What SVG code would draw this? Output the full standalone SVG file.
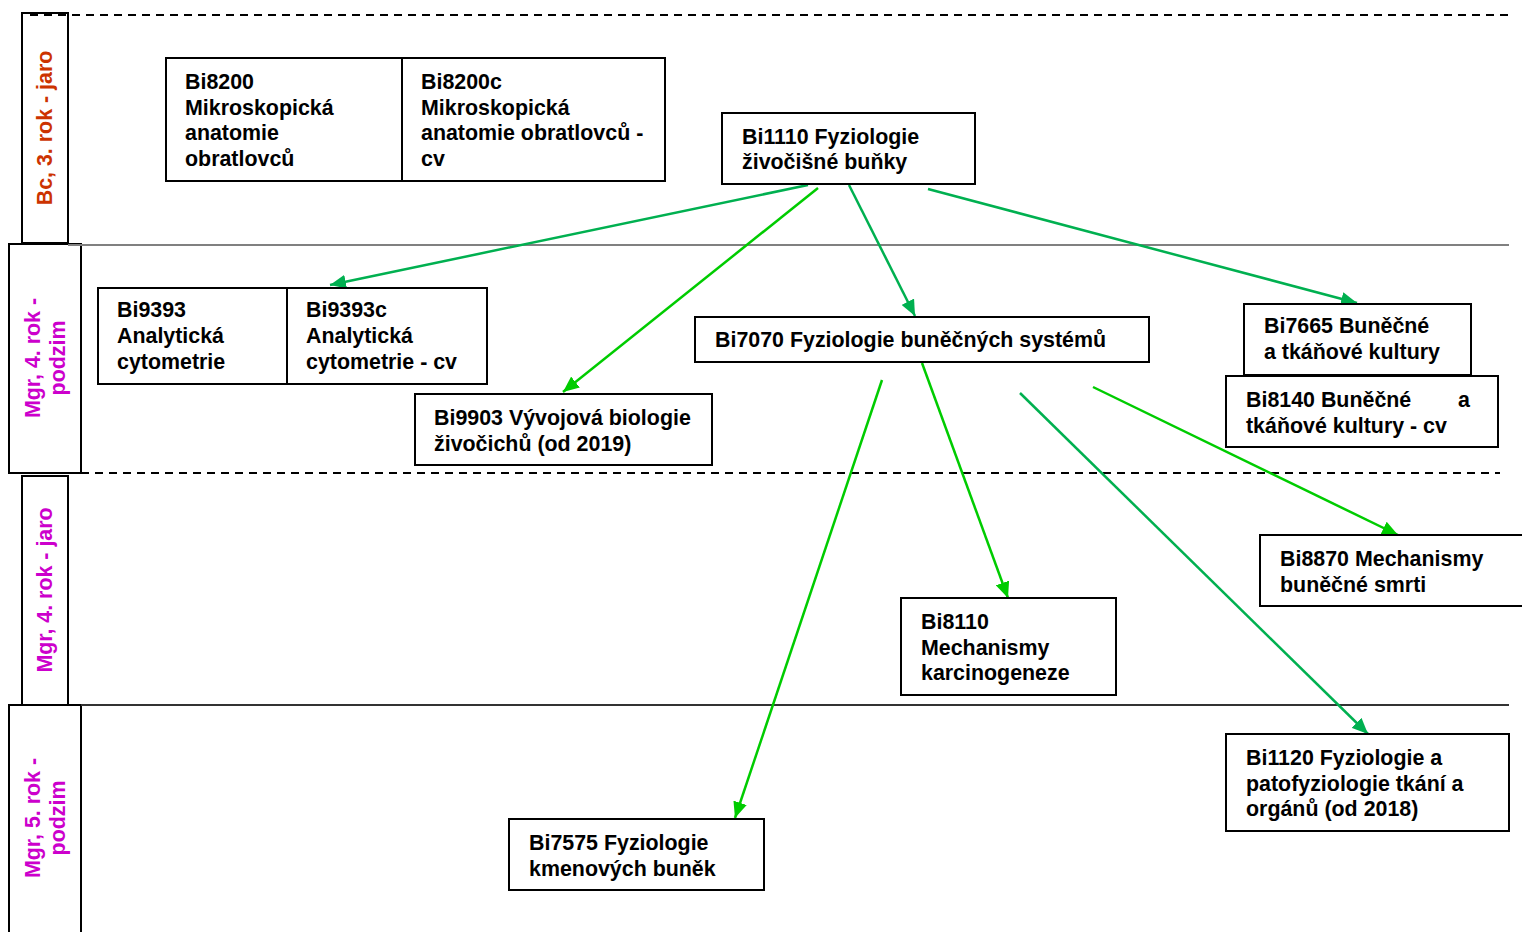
<svg xmlns="http://www.w3.org/2000/svg" width="1522" height="932" viewBox="0 0 1522 932">
<style>
  text { font-family: "Liberation Sans", Arial, sans-serif; font-weight: bold; font-size: 21.4px; fill: #000; }
  .box { fill: #fff; stroke: #000; stroke-width: 2; }
  .lane { fill: #fff; stroke: #000; stroke-width: 2; }
  .red { fill: #CC3300; }
  .mag { fill: #CC00CC; }
  .c1 { stroke: #00B050; stroke-width: 2.5; fill: none; marker-end: url(#ah1); }
  .c2 { stroke: #00CC00; stroke-width: 2.5; fill: none; marker-end: url(#ah2); }
</style>
<defs>
  <marker id="ah1" markerUnits="userSpaceOnUse" markerWidth="16" markerHeight="14" refX="16" refY="7" orient="auto"><path d="M0,0 L16,7 L0,14 z" fill="#00B050"/></marker>
  <marker id="ah2" markerUnits="userSpaceOnUse" markerWidth="16" markerHeight="14" refX="16" refY="7" orient="auto"><path d="M0,0 L16,7 L0,14 z" fill="#00CC00"/></marker>
</defs>
<rect width="1522" height="932" fill="#fff"/>
<g id="lane1"><rect class="lane" x="22" y="13" width="46" height="230"/>
  <text class="red" text-anchor="middle" transform="translate(52,128) rotate(-90)">Bc, 3. rok - jaro</text></g>
<g id="lane2"><rect class="lane" x="9" y="244" width="72" height="229"/>
  <text class="mag" text-anchor="middle" transform="translate(40,358) rotate(-90)">Mgr, 4. rok -</text>
  <text class="mag" text-anchor="middle" transform="translate(65,358) rotate(-90)">podzim</text></g>
<g id="lane3"><rect class="lane" x="22" y="476" width="46" height="229"/>
  <text class="mag" text-anchor="middle" transform="translate(52,590) rotate(-90)">Mgr, 4. rok - jaro</text></g>
<g id="lane4"><rect class="lane" x="9" y="705" width="72" height="230"/>
  <text class="mag" text-anchor="middle" transform="translate(40,818) rotate(-90)">Mgr, 5. rok -</text>
  <text class="mag" text-anchor="middle" transform="translate(65,818) rotate(-90)">podzim</text></g>
<g id="gridlines">
  <line x1="30" y1="15" x2="1508" y2="15" stroke="#000" stroke-width="2" stroke-dasharray="8,6"/>
  <line x1="68" y1="245" x2="1509" y2="245" stroke="#808080" stroke-width="2"/>
  <line x1="81" y1="473" x2="1500" y2="473" stroke="#000" stroke-width="2" stroke-dasharray="8,6"/>
  <line x1="81" y1="705" x2="1509" y2="705" stroke="#333" stroke-width="2"/>
</g>

<g id="connectors">
  <line class="c1" x1="808" y1="185" x2="330" y2="285"/>
  <line class="c2" x1="818" y1="188" x2="563" y2="392"/>
  <line class="c1" x1="849" y1="185" x2="915" y2="316"/>
  <line class="c1" x1="928" y1="189" x2="1357" y2="303"/>
  <line class="c2" x1="882" y1="380" x2="735" y2="818"/>
  <line class="c2" x1="922" y1="363" x2="1008" y2="598"/>
  <line class="c1" x1="1020" y1="393" x2="1368" y2="734"/>
  <line class="c2" x1="1093" y1="387" x2="1398" y2="535"/>
</g>

<g id="Bi8200"><rect class="box" x="166" y="58" width="236" height="123"/>
  <text x="185" y="89">Bi8200</text><text x="185" y="115">Mikroskopická</text><text x="185" y="140">anatomie</text><text x="185" y="166">obratlovců</text></g>
<g id="Bi8200c"><rect class="box" x="402" y="58" width="263" height="123"/>
  <text x="421" y="89">Bi8200c</text><text x="421" y="115">Mikroskopická</text><text x="421" y="140">anatomie obratlovců -</text><text x="421" y="166">cv</text></g>
<g id="Bi1110"><rect class="box" x="722" y="113" width="253" height="71"/>
  <text x="742" y="144">Bi1110 Fyziologie</text><text x="742" y="169">živočišné buňky</text></g>
<g id="Bi9393"><rect class="box" x="98" y="288" width="189" height="96"/>
  <text x="117" y="317">Bi9393</text><text x="117" y="343">Analytická</text><text x="117" y="369">cytometrie</text></g>
<g id="Bi9393c"><rect class="box" x="287" y="288" width="200" height="96"/>
  <text x="306" y="317">Bi9393c</text><text x="306" y="343">Analytická</text><text x="306" y="369">cytometrie - cv</text></g>
<g id="Bi7070"><rect class="box" x="695" y="317" width="454" height="45"/>
  <text x="715" y="347">Bi7070 Fyziologie buněčných systémů</text></g>
<g id="Bi9903"><rect class="box" x="415" y="394" width="297" height="71"/>
  <text x="434" y="425">Bi9903 Vývojová biologie</text><text x="434" y="451">živočichů (od 2019)</text></g>
<g id="Bi7665"><rect class="box" x="1244" y="304" width="227" height="71"/>
  <text x="1264" y="333">Bi7665 Buněčné</text><text x="1264" y="359">a tkáňové kultury</text></g>
<g id="Bi8140"><rect class="box" x="1226" y="376" width="272" height="71"/>
  <text x="1246" y="407">Bi8140 Buněčné</text><text x="1458" y="407">a</text><text x="1246" y="433">tkáňové kultury - cv</text></g>
<g id="Bi8870"><rect class="box" x="1260" y="535" width="264" height="71"/>
  <text x="1280" y="566">Bi8870 Mechanismy</text><text x="1280" y="592">buněčné smrti</text></g>
<g id="Bi8110"><rect class="box" x="901" y="598" width="215" height="97"/>
  <text x="921" y="629">Bi8110</text><text x="921" y="655">Mechanismy</text><text x="921" y="680">karcinogeneze</text></g>
<g id="Bi1120"><rect class="box" x="1226" y="734" width="283" height="97"/>
  <text x="1246" y="765">Bi1120 Fyziologie a</text><text x="1246" y="791">patofyziologie tkání a</text><text x="1246" y="816">orgánů (od 2018)</text></g>
<g id="Bi7575"><rect class="box" x="509" y="819" width="255" height="71"/>
  <text x="529" y="850">Bi7575 Fyziologie</text><text x="529" y="876">kmenových buněk</text></g>
</svg>
